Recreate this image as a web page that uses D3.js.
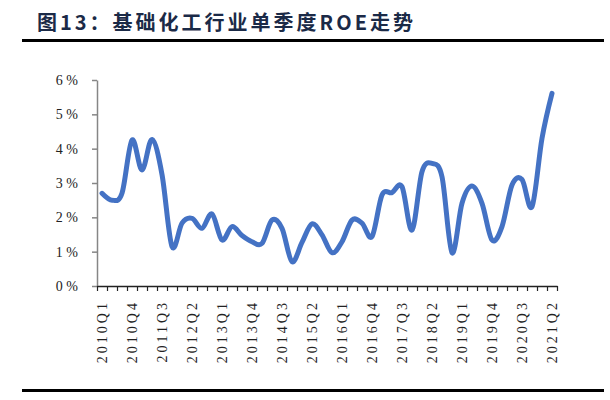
<!DOCTYPE html>
<html>
<head>
<meta charset="utf-8">
<script src="https://cdn.jsdelivr.net/npm/d3@7"></script>
<style>
  body { margin: 0; background: #fff; }
  svg { display: block; }
  .serif text { font-family: "Liberation Serif", "Times New Roman", serif; }
</style>
</head>
<body>
<svg width="610" height="400"></svg>
<script>
// quarters 2010Q1 .. 2021Q2
const quarters = [];
for (let yr = 2010; yr <= 2021; yr++) {
  for (let q = 1; q <= 4; q++) {
    if (yr === 2021 && q > 2) break;
    quarters.push(yr + 'Q' + q);
  }
}

// single-quarter ROE, %
const roe = [
  2.70, 2.50, 2.70, 4.25, 3.38, 4.27, 3.25, 1.15, 1.83, 1.97,
  1.68, 2.10, 1.34, 1.73, 1.47, 1.29, 1.24, 1.92, 1.68, 0.71,
  1.27, 1.81, 1.49, 0.97, 1.29, 1.92, 1.83, 1.44, 2.65, 2.72,
  2.89, 1.63, 3.33, 3.57, 3.18, 0.97, 2.41, 2.91, 2.41, 1.34,
  1.73, 2.94, 3.10, 2.31, 4.30, 5.61
];

const yTicks = [0, 1, 2, 3, 4, 5, 6];
const xLabels = quarters.filter((d, i) => i % 3 === 0);

const svg = d3.select('svg');

// title + rules
svg.append('text')
  .attr('x', 37)
  .attr('y', 30)
  .attr('font-family', '"Noto Sans CJK SC", sans-serif')
  .attr('font-weight', 'bold')
  .attr('font-size', 20)
  .attr('letter-spacing', 3)
  .attr('fill', '#1b2a47')
  .text('图13：基础化工行业单季度ROE走势');

svg.append('rect').attr('x', 22).attr('y', 39).attr('width', 582).attr('height', 3).attr('fill', '#000');
svg.append('rect').attr('x', 22).attr('y', 389).attr('width', 582).attr('height', 3).attr('fill', '#000');

// scales
const x = d3.scaleBand().domain(quarters).range([97, 557]);
const xEdge = d3.scaleLinear().domain([0, quarters.length]).range([97, 557]);
const y = d3.scaleLinear().domain([0, 6]).range([286, 80]);

// y axis
const yAxis = svg.append('g')
  .attr('class', 'serif')
  .attr('transform', 'translate(97,0)')
  .call(d3.axisLeft(y).tickValues(yTicks).tickFormat(d => d + ' %').tickSize(5).tickSizeOuter(0).tickPadding(14));
yAxis.select('.domain').attr('stroke', '#868686').attr('stroke-width', 1.5);
yAxis.selectAll('.tick line').attr('stroke', '#868686').attr('stroke-width', 1.5);
yAxis.selectAll('text')
  .style('font-size', '14px')
  .attr('fill', '#222');

// x axis: ticks between categories
const xAxis = svg.append('g')
  .attr('transform', 'translate(0,286)')
  .call(d3.axisBottom(xEdge).tickValues(d3.range(quarters.length + 1)).tickFormat('').tickSize(5).tickSizeOuter(0));
xAxis.select('.domain').attr('stroke', '#222').attr('stroke-width', 1.5);
xAxis.selectAll('.tick line').attr('stroke', '#222').attr('stroke-width', 1.2);

// x labels, every 3rd quarter, vertical
const xLab = svg.append('g')
  .attr('class', 'serif')
  .attr('transform', 'translate(0,286)')
  .call(d3.axisBottom(x).tickValues(xLabels).tickSize(0));
xLab.select('.domain').remove();
xLab.selectAll('text')
  .attr('transform', 'rotate(-90)')
  .attr('text-anchor', 'end')
  .attr('x', -14)
  .attr('y', 0)
  .attr('dy', '0.35em')
  .style('font-size', '14px')
  .style('letter-spacing', '3px')
  .attr('fill', '#222');

// the line
const line = d3.line()
  .x((d, i) => x(quarters[i]) + x.bandwidth() / 2)
  .y(d => y(d))
  .curve(d3.curveCatmullRom.alpha(0));

svg.append('path')
  .datum(roe)
  .attr('fill', 'none')
  .attr('stroke', '#4472C4')
  .attr('stroke-width', 5)
  .attr('stroke-linejoin', 'round')
  .attr('stroke-linecap', 'round')
  .attr('d', line);
</script>
</body>
</html>
